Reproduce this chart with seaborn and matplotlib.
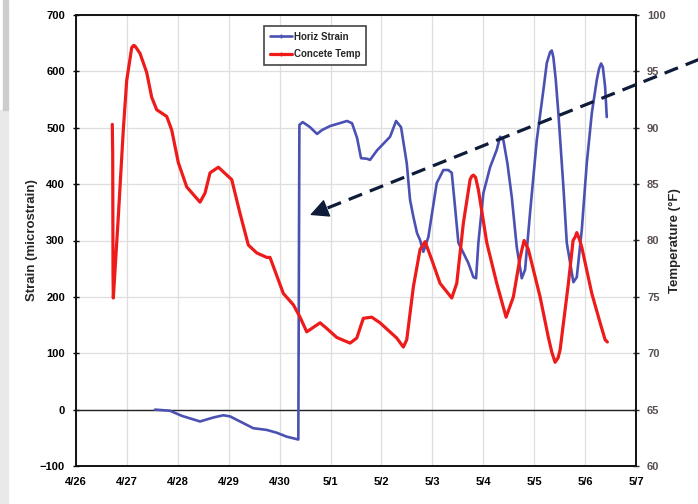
import matplotlib
matplotlib.use("Agg")
import matplotlib.pyplot as plt
import pandas as pd
import seaborn as sns
from matplotlib.lines import Line2D
from matplotlib.patches import Rectangle

# Time axis: days elapsed since 4/26 00:00
strain_day = [1.552, 1.847, 2.077, 2.436, 2.697, 2.894, 3.026, 3.222, 3.483, 3.747,
              3.943, 4.140, 4.367, 4.388, 4.454, 4.597, 4.735, 4.833, 4.990, 5.324,
              5.422, 5.521, 5.599, 5.717, 5.776, 5.914, 6.169, 6.287, 6.385, 6.497,
              6.562, 6.627, 6.699, 6.758, 6.823, 6.921, 7.086, 7.216, 7.314, 7.381,
              7.446, 7.511, 7.609, 7.707, 7.806, 7.859, 7.904, 8.002, 8.134, 8.265,
              8.330, 8.395, 8.474, 8.560, 8.658, 8.756, 8.821, 8.919, 9.051, 9.181,
              9.248, 9.312, 9.346, 9.377, 9.424, 9.475, 9.574, 9.640, 9.770, 9.837,
              9.935, 10.033, 10.132, 10.230, 10.275, 10.314, 10.348, 10.393, 10.426]
strain_val = [0, -2, -11, -21, -14, -10, -12, -21, -33, -36,
              -41, -48, -53, 505, 510, 501, 489, 496, 503, 512,
              508, 482, 446, 445, 443, 460, 484, 512, 501, 437,
              372, 342, 313, 301, 280, 306, 402, 425, 425, 420,
              359, 296, 278, 260, 235, 233, 296, 384, 430, 461,
              484, 478, 437, 377, 288, 233, 248, 349, 478, 567,
              615, 634, 637, 625, 585, 526, 395, 296, 226, 235,
              319, 437, 526, 585, 605, 614, 608, 573, 519]

temp_day = [0.713, 0.717, 0.721, 0.727, 0.733, 0.831, 0.929, 0.996, 1.047, 1.094,
            1.130, 1.159, 1.257, 1.389, 1.487, 1.585, 1.782, 1.880, 2.010, 2.175,
            2.436, 2.534, 2.633, 2.796, 3.059, 3.222, 3.385, 3.550, 3.747, 3.811,
            4.073, 4.269, 4.401, 4.532, 4.794, 4.925, 5.122, 5.383, 5.515, 5.644,
            5.809, 5.972, 6.300, 6.430, 6.497, 6.627, 6.758, 6.857, 6.988, 7.151,
            7.381, 7.479, 7.609, 7.741, 7.774, 7.806, 7.849, 7.904, 8.069, 8.265,
            8.448, 8.591, 8.723, 8.802, 8.886, 9.116, 9.279, 9.346, 9.411, 9.470,
            9.509, 9.672, 9.764, 9.804, 9.837, 9.882, 9.935, 10.132, 10.295, 10.393,
            10.438]
temp_val = [90.3, 88.9, 87.8, 77.1, 74.9, 82.1, 89.8, 94.2, 95.7, 97.1,
            97.3, 97.25, 96.6, 94.9, 92.7, 91.6, 91.0, 89.8, 86.9, 84.75,
            83.4, 84.2, 86.0, 86.5, 85.4, 82.4, 79.6, 78.9, 78.5, 78.5,
            75.3, 74.3, 73.2, 71.9, 72.7, 72.2, 71.4, 70.9, 71.35, 73.1,
            73.2, 72.7, 71.35, 70.55, 71.2, 75.9, 79.2, 79.9, 78.3, 76.2,
            74.9, 76.2, 81.55, 85.4, 85.7, 85.8, 85.6, 84.5, 79.8, 76.2,
            73.2, 75.0, 78.5, 80.0, 79.2, 75.0, 71.4, 70.1, 69.2, 69.6,
            70.3, 76.2, 80.0, 80.3, 80.7, 80.2, 79.4, 75.3, 72.7, 71.2,
            71.0]

day_ticks = list(range(12))
day_labels = ["4/26", "4/27", "4/28", "4/29", "4/30", "5/1",
              "5/2", "5/3", "5/4", "5/5", "5/6", "5/7"]
strain_ticks = list(range(-100, 701, 100))
temp_ticks = list(range(60, 101, 5))
series_names = ["Horiz Strain", "Concete Temp"]

BLUE = "#4b51b3"
RED = "#ee1b1b"
NAVY = "#0e1c3a"

sns.set_style("white")
plt.rcParams["font.family"] = ["Liberation Sans", "DejaVu Sans"]
plt.rcParams["font.weight"] = "bold"

W, H = 698, 504
fig = plt.figure(figsize=(W / 100, H / 100), dpi=100)
fig.patch.set_facecolor("white")

# thin grey strip along the left border
fig.patches.append(Rectangle((0, 0), 8 / W, 1 - 110 / H, transform=fig.transFigure,
                             color="#e9e9e9", zorder=-5))
fig.patches.append(Rectangle((3 / W, 1 - 110 / H), 5 / W, 110 / H, transform=fig.transFigure,
                             color="#cdcdcd", zorder=-5))

ax = fig.add_axes([76 / W, 38 / H, 560 / W, 451 / H])
ax2 = ax.twinx()

strain_df = pd.DataFrame({"day": strain_day, "strain": strain_val})
temp_df = pd.DataFrame({"day": temp_day, "temp": temp_val})

sns.lineplot(data=strain_df, x="day", y="strain", ax=ax, color=BLUE, linewidth=1.9,
             sort=False, estimator=None, legend=False, zorder=3)
sns.lineplot(data=temp_df, x="day", y="temp", ax=ax2, color=RED, linewidth=2.3,
             sort=False, estimator=None, legend=False, zorder=3)
for line in ax.get_lines() + ax2.get_lines():
    line.set_solid_joinstyle("round")

ax.set_xlim(0, 11)
ax.set_ylim(-100, 700)
ax2.set_ylim(60, 100)

ax.set_xticks(day_ticks, labels=day_labels)
ax.set_yticks(strain_ticks)
ax2.set_yticks(temp_ticks)

ax.set_axisbelow(True)
ax.grid(True, color="#dedede", linewidth=0.9)
ax2.grid(False)
ax.axhline(0, color="#222222", linewidth=1.0, zorder=2)

ax.tick_params(axis="x", length=0, pad=8, labelsize=8, colors="black")
ax.tick_params(axis="y", direction="inout", length=4, width=1, pad=6,
               labelsize=8, colors="black")
ax2.tick_params(axis="y", direction="inout", length=4, width=1, pad=6,
                labelsize=8, colors="#2a2a2a", labelcolor="#5a5050")

for a in (ax, ax2):
    for s in a.spines.values():
        s.set_color("#111111")
        s.set_linewidth(1.2)
        s.set_visible(True)

ax.set_xlabel("")
ax.set_ylabel("Strain (microstrain)", fontsize=9.5, fontweight="bold")
ax.yaxis.set_label_coords(-0.068, 0.5)
ax2.set_ylabel("Temperature (\u00b0F)", fontsize=9.5, fontweight="bold")
ax2.yaxis.set_label_coords(1.059, 0.5)

handles = [Line2D([], [], color=BLUE, linewidth=1.9, marker="+", markersize=3),
           Line2D([], [], color=RED, linewidth=2.3, marker="+", markersize=3)]
leg = ax2.legend(handles, series_names, loc="upper left", bbox_to_anchor=(0.336, 0.976),
                 borderaxespad=0, frameon=True, fancybox=False, shadow=False,
                 edgecolor="#444444", facecolor="white", framealpha=1,
                 fontsize=7, handlelength=2.3, handletextpad=0.15,
                 labelspacing=0.75, borderpad=0.6)
leg.get_frame().set_linewidth(1.2)

# dashed pointer towards the strain jump
x0, y0 = 705 / W, 1 - 57 / H
tip_x, tip_y = 310 / W, 1 - 215 / H
base_x, base_y = 322 / W, 1 - 210.2 / H
fig.add_artist(Line2D([x0, base_x], [y0, base_y], transform=fig.transFigure,
                      color=NAVY, linewidth=2.3, linestyle=(0, (4.5, 2.6)),
                      solid_capstyle="butt", dash_capstyle="butt"))
fig.add_artist(plt.Annotation("", xy=(tip_x, tip_y), xytext=(base_x + 2 / W, base_y + 0.8 / H),
                              xycoords="figure fraction", textcoords="figure fraction",
                              arrowprops=dict(arrowstyle="-|>,head_length=0.9,head_width=0.45",
                                              color=NAVY, lw=1.0, mutation_scale=13,
                                              shrinkA=0, shrinkB=0)))

fig.savefig("out.png", dpi=100)
